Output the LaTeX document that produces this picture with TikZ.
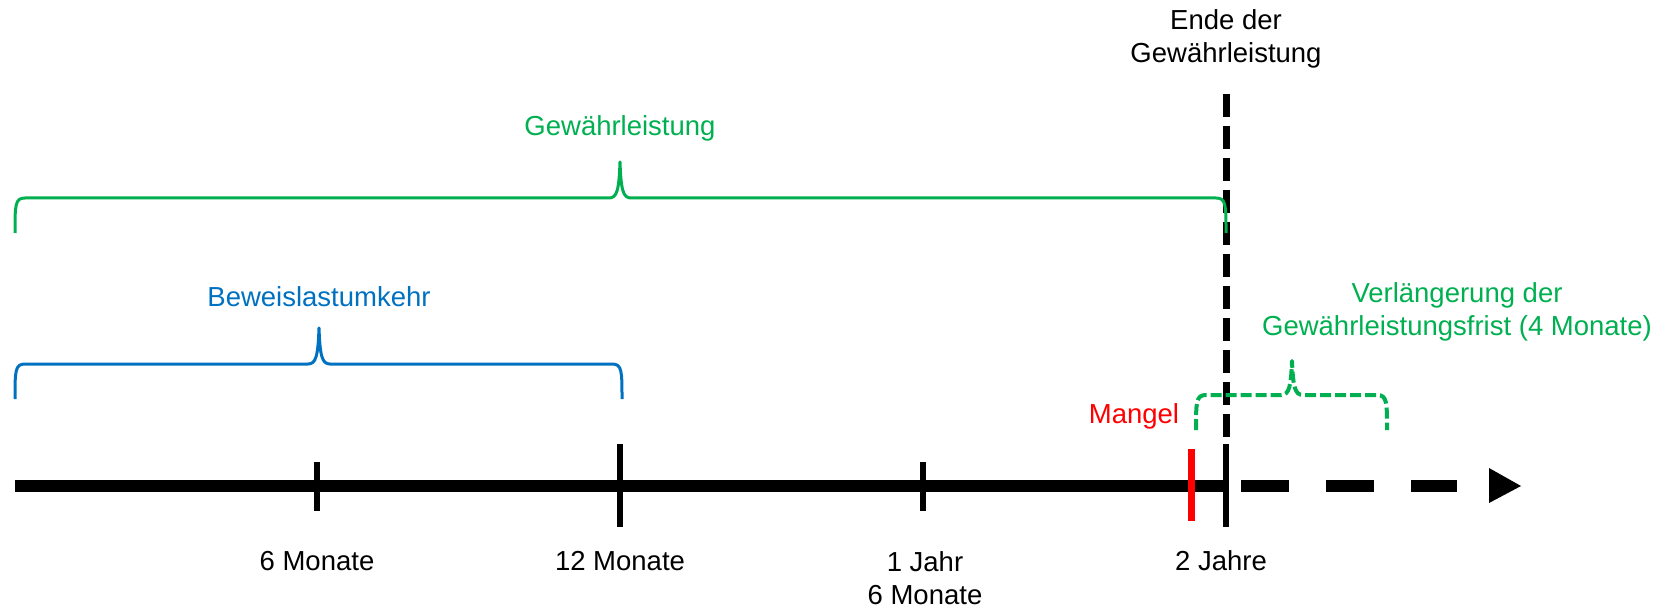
\documentclass[tikz,border=0pt]{standalone}
\usepackage{fontspec}
\setmainfont{Liberation Sans}
\definecolor{gw}{RGB}{0,176,80}
\definecolor{bl}{RGB}{0,112,192}
\definecolor{rd}{RGB}{255,0,0}
\begin{document}
\begin{tikzpicture}[x=1pt,y=-1pt,
  lbl/.style={inner sep=0pt, align=center, font=\fontsize{27.5}{33}\selectfont},
  tickline/.style={line width=6pt},
  bracepath/.style={line width=3pt, line join=round, line cap=butt}]
\useasboundingbox (0,0) rectangle (1677,612);

% timeline coordinates
\coordinate (t0) at (15,486);
\coordinate (t2j) at (1225,486);
\coordinate (d0) at (1241,486);
\coordinate (d1) at (1457,486);

% main timeline
\draw[line width=12pt] (t0) -- (t2j);
\draw[line width=12pt, dash pattern=on 48pt off 37pt] (d0) -- (d1);
\fill (1489,468) -- (1521,486) -- (1489,503) -- cycle;

% ticks
\coordinate (m6a) at (317,462);  \coordinate (m6b) at (317,511);
\coordinate (m12a) at (620,444); \coordinate (m12b) at (620,527);
\coordinate (m18a) at (923,462); \coordinate (m18b) at (923,511);
\draw[tickline] (m6a) -- (m6b);
\draw[tickline] (m12a) -- (m12b);
\draw[tickline] (m18a) -- (m18b);

% end of warranty line
\coordinate (ea) at (1226,94);
\coordinate (eb) at (1226,437);
\coordinate (ec) at (1226,444);
\coordinate (ed) at (1226,527);
\draw[line width=7pt, dash pattern=on 23pt off 9pt] (ea) -- (eb);
\draw[line width=6pt] (ec) -- (ed);

% Mangel
\coordinate (ma) at (1191,449);
\coordinate (mb) at (1191,521);
\draw[rd, line width=7pt] (ma) -- (mb);

% green brace (Gewaehrleistung)
\draw[gw, bracepath] (15,233) .. controls (15,205) and (15,198) .. (25,198)
  -- (609,198) .. controls (617,198) and (619,190) .. (620,162)
  .. controls (621,190) and (623,198) .. (631,198)
  -- (1216,198) .. controls (1226,198) and (1226,205) .. (1226,233);

% blue brace (Beweislastumkehr)
\draw[bl, bracepath] (15,399) .. controls (15,371) and (15,364) .. (25,364)
  -- (308,364) .. controls (316,364) and (318,356) .. (319,328)
  .. controls (320,356) and (322,364) .. (330,364)
  -- (612,364) .. controls (622,364) and (622,371) .. (622,399);

% green dashed brace (Verlaengerung)
\draw[gw, bracepath, line width=4pt, dash pattern=on 11pt off 4pt] (1196,430) .. controls (1196,402) and (1196,395) .. (1206,395)
  -- (1281,395) .. controls (1289,395) and (1291,387) .. (1292,361)
  .. controls (1293,387) and (1295,395) .. (1303,395)
  -- (1377,395) .. controls (1387,395) and (1387,402) .. (1387,430);

% labels
\node[lbl] (ende) at (1226,39) {Ende der\\Gewährleistung};
\node[lbl, text=gw] (gwl) at (620,128) {Gewährleistung};
\node[lbl, text=bl] (bwu) at (319,297) {Beweislastumkehr};
\node[lbl, text=gw] (verl) at (1457,312) {Verlängerung der\\Gewährleistungsfrist (4 Monate)};
\node[lbl, text=rd] (mang) at (1134,416) {Mangel};
\node[lbl] (l6) at (317,561) {6 Monate};
\node[lbl] (l12) at (620,561) {12 Monate};
\node[lbl] (l18) at (925,578) {1 Jahr\\6 Monate};
\node[lbl] (l24) at (1221,561) {2 Jahre};
\end{tikzpicture}
\end{document}
